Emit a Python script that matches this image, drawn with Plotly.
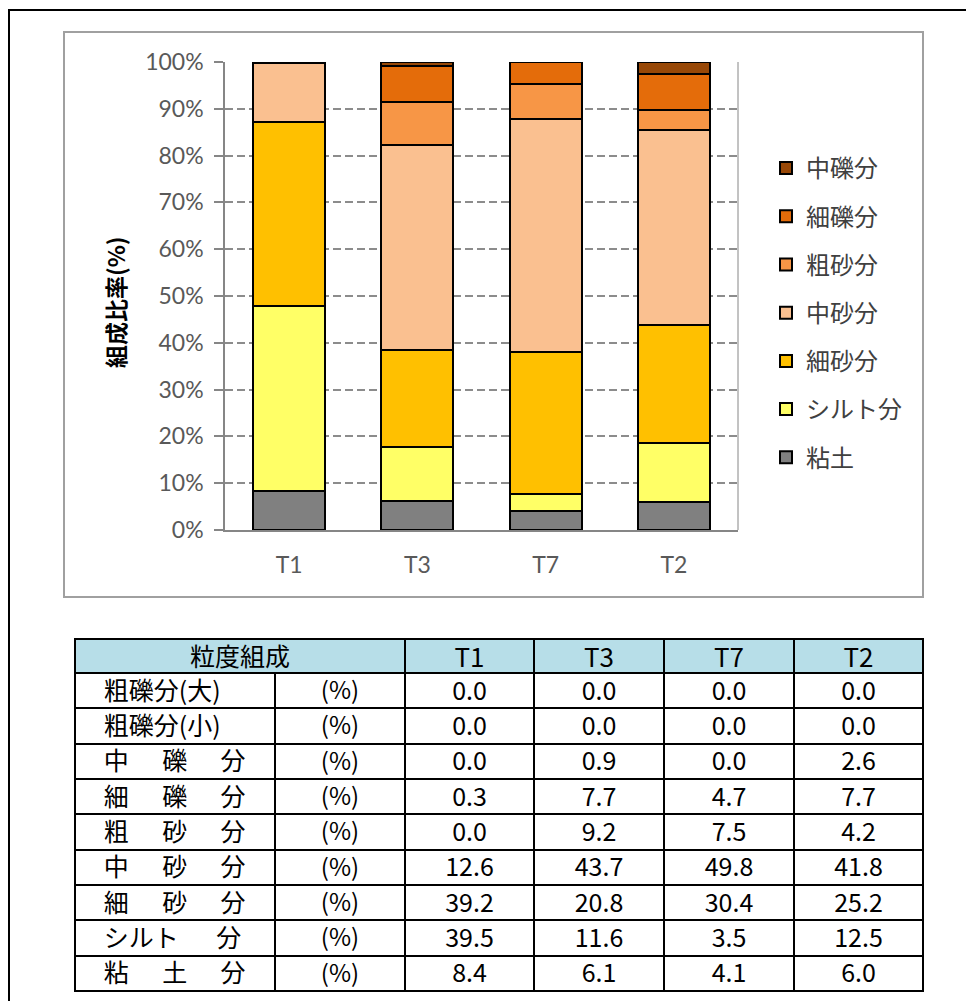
import plotly.graph_objects as go

W, H = 966, 1001

samples = ["T1", "T3", "T7", "T2"]

# Grain-size fractions (%) for each sample, in table row order
coarse_gravel_large = [0.0, 0.0, 0.0, 0.0]
coarse_gravel_small = [0.0, 0.0, 0.0, 0.0]
medium_gravel = [0.0, 0.9, 0.0, 2.6]
fine_gravel = [0.3, 7.7, 4.7, 7.7]
coarse_sand = [0.0, 9.2, 7.5, 4.2]
medium_sand = [12.6, 43.7, 49.8, 41.8]
fine_sand = [39.2, 20.8, 30.4, 25.2]
silt = [39.5, 11.6, 3.5, 12.5]
clay = [8.4, 6.1, 4.1, 6.0]

table_labels = ["粗礫分(大)", "粗礫分(小)", "中\u3000\u2004礫\u3000\u2004分", "細\u3000\u2004礫\u3000\u2004分",
                "粗\u3000\u2004砂\u3000\u2004分", "中\u3000\u2004砂\u3000\u2004分", "細\u3000\u2004砂\u3000\u2004分",
                "シルト\u3000\u2002分", "粘\u3000\u2004土\u3000\u2004分"]
table_rows = [coarse_gravel_large, coarse_gravel_small, medium_gravel, fine_gravel,
              coarse_sand, medium_sand, fine_sand, silt, clay]
table_title = "粒度組成"
unit_label = "(%)"

y_ticks = [0, 10, 20, 30, 40, 50, 60, 70, 80, 90, 100]
y_title = "組成比率(%)"

# Stacked series, bottom to top
series_names = ["粘土", "シルト分", "細砂分", "中砂分", "粗砂分", "細礫分", "中礫分"]
series_values = [clay, silt, fine_sand, medium_sand, coarse_sand, fine_gravel, medium_gravel]
series_colors = ["#808080", "#FFFF66", "#FFC000", "#FAC090", "#F79646", "#E46C0A", "#984807"]


def px(x):
    return x / W


def py(y):
    return 1 - y / H


LATIN = "Lato, 'Noto Sans CJK JP', sans-serif"
CJK = "'Noto Sans CJK JP', sans-serif"
NARROW = "'Liberation Sans Narrow', 'Noto Sans CJK JP', sans-serif"

fig = go.Figure()

n = len(series_names)
for i, (name, vals, color) in enumerate(zip(series_names, series_values, series_colors)):
    fig.add_trace(go.Bar(
        x=samples, y=vals, name=name, legendgroup=name, legendrank=n - i,
        marker=dict(color=color, line=dict(color="#000000", width=2)),
        hoverinfo="x+y+name",
    ))

# Grain-size table body (its empty, transparent header row sits under the title row)
body_cols = [["\u2002\u2004" + s for s in table_labels], [unit_label] * len(table_labels)]
for j in range(len(samples)):
    body_cols.append([f"{row[j]:.1f}" for row in table_rows])

fig.add_trace(go.Table(
    domain=dict(x=[px(75), px(923)], y=[0, py(657)]),
    columnwidth=[200, 130, 129, 130, 130, 129],
    header=dict(values=[], height=0, line=dict(width=0, color="rgba(0,0,0,0)"),
                fill_color="rgba(0,0,0,0)"),
    cells=dict(
        values=body_cols,
        fill_color="white",
        line=dict(color="#000000", width=2),
        align=["left", "center", "center", "center", "center", "center"],
        height=35.33,
        font=dict(family=[CJK, NARROW, NARROW, NARROW, NARROW, NARROW],
                  size=[25, 24, 25, 25, 25, 25], color="#000000"),
    ),
))

# Title row of the table
fig.add_trace(go.Table(
    domain=dict(x=[px(75), px(923)], y=[py(700), py(639)]),
    columnwidth=[330, 129, 130, 130, 129],
    header=dict(
        values=[table_title] + samples,
        fill_color="#B7DEE8",
        line=dict(color="#000000", width=2),
        align="center",
        height=34,
        font=dict(family=[CJK] + [NARROW] * 4, size=[25] + [26] * 4, color="#000000"),
    ),
))

fig.update_layout(
    width=W, height=H,
    margin=dict(l=0, r=0, t=0, b=0, pad=0, autoexpand=False),
    paper_bgcolor="white", plot_bgcolor="white",
    barmode="stack", bargap=0.4375,
    showlegend=True,
    legend=dict(
        x=px(766), xanchor="left", y=py(146), yanchor="top",
        font=dict(family=CJK, size=24, color="#404040"),
        traceorder="grouped", tracegroupgap=14,
        bgcolor="rgba(0,0,0,0)",
    ),
    xaxis=dict(
        domain=[px(225), px(738)],
        type="category", categoryorder="array", categoryarray=samples,
        showline=True, linecolor="#868686", linewidth=1.5,
        ticks="", showgrid=False,
        tickfont=dict(family=LATIN, size=23, color="#595959"),
        ticklabelstandoff=14,
    ),
    yaxis=dict(
        domain=[py(530), py(62)],
        range=[0, 100], tickmode="array", tickvals=y_ticks,
        ticktext=[f"{v}%" for v in y_ticks],
        ticks="outside", ticklen=9, tickcolor="#868686", tickwidth=1.5,
        showline=True, linecolor="#868686", linewidth=1.5,
        showgrid=True, gridcolor="#8C8C8C", gridwidth=1.5, griddash="8px,4px",
        zeroline=False,
        tickfont=dict(family=LATIN, size=23, color="#595959"),
        ticklabelstandoff=6,
    ),
    annotations=[dict(
        text="<b>" + y_title + "</b>", textangle=-90,
        x=px(115), y=py(302), xref="paper", yref="paper",
        xanchor="center", yanchor="middle", showarrow=False,
        font=dict(family=CJK, size=23, color="#000000"),
    )],
    shapes=[
        # outer frame
        dict(type="rect", xref="paper", yref="paper",
             x0=px(9), x1=1.02, y0=-0.02, y1=py(10),
             line=dict(color="#000000", width=2)),
        # chart area frame
        dict(type="rect", xref="paper", yref="paper",
             x0=px(64), x1=px(923), y0=py(597), y1=py(32),
             line=dict(color="#A0A0A0", width=2)),
        # right edge of plot area
        dict(type="line", xref="x domain", yref="y domain",
             x0=1, x1=1, y0=0, y1=1,
             line=dict(color="#868686", width=1)),
    ],
)

fig.write_html("out.html")
